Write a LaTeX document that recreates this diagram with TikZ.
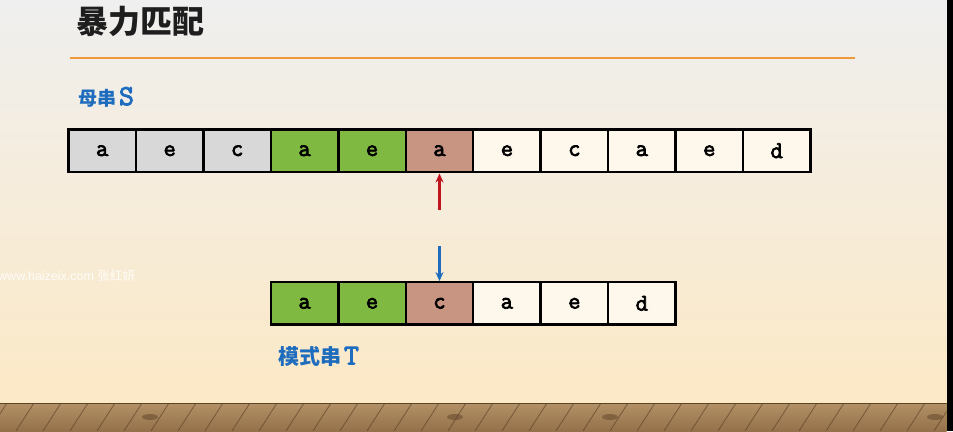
\documentclass[tikz,border=0pt]{standalone}
\usepackage{fontspec}
\usepackage{xcolor}
\usetikzlibrary{positioning,arrows.meta}
\setmainfont{Liberation Sans}
\newfontfamily\cjk{Noto Sans CJK SC}
\newfontfamily\cellfont[FakeBold=3]{Latin Modern Mono}
\definecolor{SlideTop}{HTML}{EFEFEF}
\definecolor{SlideBottom}{HTML}{FCE9C6}
\definecolor{WoodLight}{HTML}{B39166}
\definecolor{WoodMid}{HTML}{94714A}
\definecolor{WoodDark}{HTML}{5F4429}
\definecolor{RuleOrange}{HTML}{EE9A3A}
\definecolor{TitleGray}{HTML}{1E1E1E}
\definecolor{LabelBlue}{HTML}{1E6CBE}
\definecolor{CellGray}{HTML}{D8D8D8}
\definecolor{CellGreen}{HTML}{7FB942}
\definecolor{CellPink}{HTML}{C99583}
\definecolor{CellCream}{HTML}{FDF7EC}
\definecolor{MissRed}{HTML}{C0141E}

\begin{document}
\begin{tikzpicture}[
    x=1pt, y=-1pt,
    cellbox/.style={
      draw=black,
      line width=2.4pt,
      outer sep=0pt,
      inner sep=0pt,
      minimum width=67.45pt,
      minimum height=42.5pt,
      font=\cellfont\fontsize{24}{24}\selectfont
    },
    ptr/.style={-{Stealth[length=9pt,width=8pt]}, line width=2.4pt},
    strlabel/.style={anchor=west, inner sep=0pt, text=LabelBlue}
  ]
    \useasboundingbox (0,0) rectangle (953,431);
    \shade[top color=SlideTop, bottom color=SlideBottom] (0,0) rectangle (946.5,403);
    \shade[top color=WoodLight, bottom color=WoodMid] (0,403) rectangle (946.5,431);
    \begin{scope}
      \clip (0,403) rectangle (946.5,431);
      \foreach \x in {-20,7,...,980}
        \draw[WoodDark, line width=0.8pt, opacity=0.7] (\x,403) -- (\x-18,431);
      \foreach \x in {150,455,610,935}
        \fill[WoodDark, opacity=0.5] (\x,417) ellipse (8pt and 3pt);
    \end{scope}
    \draw[WoodDark, line width=1pt] (0,403) -- (946.5,403);
    \fill[black] (946.5,0) rectangle (953,431);

    \node[
      anchor=west,
      inner sep=0pt,
      text=TitleGray,
      font=\cjk\bfseries\fontsize{32}{32}\selectfont
    ] (title) at (76,21) {暴力匹配};
    \coordinate (ruleL) at (70,58);
    \coordinate (ruleR) at (855,58);
    \draw[RuleOrange, line width=2.6pt] (ruleL) -- (ruleR);

    \node[strlabel] (slabel) at (78,97)
      {{\cjk\bfseries\fontsize{19}{19}\selectfont 母串} {\cellfont\fontsize{29}{29}\selectfont S}};

    \coordinate (s0) at (68.5,150.75);
    \foreach \ch/\fc [count=\i] in {a/CellGray,e/CellGray,c/CellGray,a/CellGreen,e/CellGreen,
        a/CellPink,e/CellCream,c/CellCream,a/CellCream,e/CellCream,d/CellCream} {
      \pgfmathtruncatemacro\prev{\i-1}
      \node[cellbox, fill=\fc, right=0pt of s\prev] (s\i) {\ch};
    }

    \coordinate (t0) at ([yshift=-152.6pt]s4.west);
    \foreach \ch/\fc [count=\i] in {a/CellGreen,e/CellGreen,c/CellPink,
        a/CellCream,e/CellCream,d/CellCream} {
      \pgfmathtruncatemacro\prev{\i-1}
      \node[cellbox, fill=\fc, right=0pt of t\prev] (t\i) {\ch};
    }

    \coordinate (sptr) at ([yshift=-38pt]s6.south);
    \draw[ptr, MissRed] (sptr) -- ([yshift=-1.5pt]s6.south);
    \coordinate (tptr) at ([yshift=36pt]t3.north);
    \draw[ptr, LabelBlue] (tptr) -- ([yshift=1pt]t3.north);

    \node[strlabel] (tlabel) at (278,356.5)
      {{\cjk\bfseries\fontsize{21}{21}\selectfont 模式串} {\cellfont\fontsize{29}{29}\selectfont T}};

    \node[
      anchor=west,
      inner sep=0pt,
      text=white,
      opacity=0.85,
      font=\fontsize{12.5}{12.5}\selectfont
    ] (mark) at (-2,276) {www.haizeix.com {\cjk 张红妍}};
  \end{tikzpicture}
\end{document}
